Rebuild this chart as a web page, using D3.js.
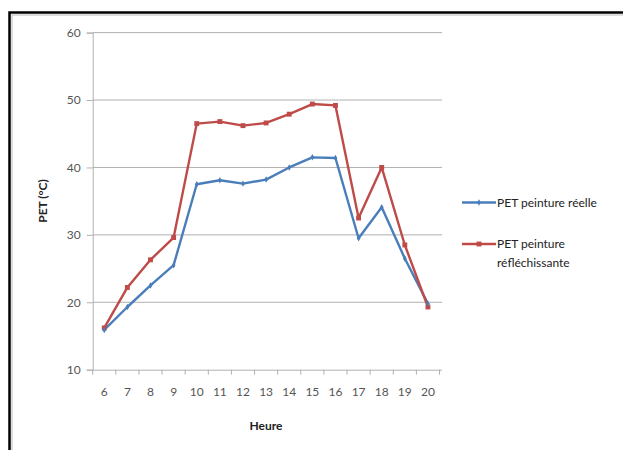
<!DOCTYPE html>
<html><head><meta charset="utf-8">
<script src="https://cdn.jsdelivr.net/npm/d3@7"></script>
<style>body{margin:0;background:#fff}svg{display:block}</style>
</head><body>
<svg id="c" width="623" height="450"></svg>
<script>
const hours = [6,7,8,9,10,11,12,13,14,15,16,17,18,19,20];
const reelle = [15.9,19.3,22.5,25.5,37.5,38.1,37.6,38.2,40.0,41.5,41.4,29.5,34.1,26.5,19.8];
const reflechissante = [16.2,22.2,26.3,29.6,46.5,46.8,46.2,46.6,47.9,49.4,49.2,32.5,40.0,28.5,19.3];
const yTicks = [10,20,30,40,50,60];
const seriesNames = ["PET peinture réelle","PET peinture réfléchissante"];
const colors = ["#4a7ebb","#be4b48"];

const svg = d3.select("#c");
const font = "Lato, 'Open Sans', sans-serif";
// frame
svg.append("rect").attr("x",9.5).attr("y",12.5).attr("width",640).attr("height",460)
  .attr("fill","none").attr("stroke","#000").attr("stroke-width",2.5);
svg.append("rect").attr("x",12).attr("y",15).attr("width",640).attr("height",460)
  .attr("fill","none").attr("stroke","#bbb").attr("stroke-width",1);

const L=92.7, R=439.5, GR=442, T=32.6, B=369.7;
const x = d3.scaleBand().domain(hours).range([L,R]);
const y = d3.scaleLinear().domain([10,60]).range([B,T]);

// gridlines
svg.append("g").selectAll("line").data(yTicks.filter(d=>d>10)).join("line")
  .attr("x1",L).attr("x2",GR).attr("y1",d=>y(d)).attr("y2",d=>y(d))
  .attr("stroke","#b0b0b0").attr("stroke-width",1);

// y axis
const ya = svg.append("g").attr("transform",`translate(${L},0)`)
  .call(d3.axisLeft(y).tickValues(yTicks).tickSize(6).tickPadding(6));
ya.select(".domain").attr("stroke","#b0b0b0");
ya.selectAll(".tick line").attr("stroke","#b0b0b0");
ya.selectAll("text").attr("font-family",font).attr("font-size",12).attr("fill","#555");

// x axis
const xa = svg.append("g").attr("transform",`translate(0,${B})`)
  .call(d3.axisBottom(x).tickSize(0).tickPadding(18));
xa.select(".domain").attr("d",`M${L},0.5H${GR}`).attr("stroke","#b0b0b0");
xa.selectAll("text").attr("font-family",font).attr("font-size",12).attr("fill","#555");
// boundary ticks
svg.append("g").selectAll("line").data(hours.concat([null])).join("line")
  .attr("x1",(d,i)=>L+i*x.bandwidth()).attr("x2",(d,i)=>L+i*x.bandwidth())
  .attr("y1",B).attr("y2",B+5).attr("stroke","#b0b0b0");

// axis titles
svg.append("text").attr("x",266).attr("y",430).attr("text-anchor","middle")
  .attr("font-family",font).attr("font-size",12).attr("font-weight","bold").attr("fill","#222").text("Heure");
svg.append("text").attr("transform","translate(47,201) rotate(-90)").attr("text-anchor","middle")
  .attr("font-family",font).attr("font-size",12).attr("font-weight","bold").attr("fill","#222").text("PET (°C)");

const cx = d => x(d)+x.bandwidth()/2;
const line = d3.line().x((d,i)=>cx(hours[i])).y(d=>y(d));
[reelle, reflechissante].forEach((s,k)=>{
  svg.append("path").datum(s).attr("d",line).attr("fill","none")
    .attr("stroke",colors[k]).attr("stroke-width",2.4).attr("stroke-linejoin","round");
});
// markers
svg.append("g").selectAll("path").data(reflechissante).join("path")
  .attr("d",d3.symbol(d3.symbolSquare,24)).attr("transform",(d,i)=>`translate(${cx(hours[i])},${y(d)})`)
  .attr("fill",colors[1]);
svg.append("g").selectAll("path").data(reelle).join("path")
  .attr("d",d3.symbol(d3.symbolDiamond,12)).attr("transform",(d,i)=>`translate(${cx(hours[i])},${y(d)})`)
  .attr("fill",colors[0]);

// legend
const lg = svg.append("g");
lg.append("line").attr("x1",462).attr("x2",496).attr("y1",202.5).attr("y2",202.5).attr("stroke",colors[0]).attr("stroke-width",2.4);
lg.append("path").attr("d",d3.symbol(d3.symbolDiamond,12)).attr("transform","translate(479,202.5)").attr("fill",colors[0]);
lg.append("text").attr("x",497).attr("y",206.5).attr("font-family",font).attr("font-size",12).attr("fill","#222").text(seriesNames[0]);
lg.append("line").attr("x1",462).attr("x2",496).attr("y1",244).attr("y2",244).attr("stroke",colors[1]).attr("stroke-width",2.4);
lg.append("path").attr("d",d3.symbol(d3.symbolSquare,24)).attr("transform","translate(479,244)").attr("fill",colors[1]);
const t2 = lg.append("text").attr("font-family",font).attr("font-size",12).attr("fill","#222");
t2.append("tspan").attr("x",497).attr("y",248).text("PET peinture");
t2.append("tspan").attr("x",497).attr("y",267).text("réfléchissante");
</script>
</body></html>
